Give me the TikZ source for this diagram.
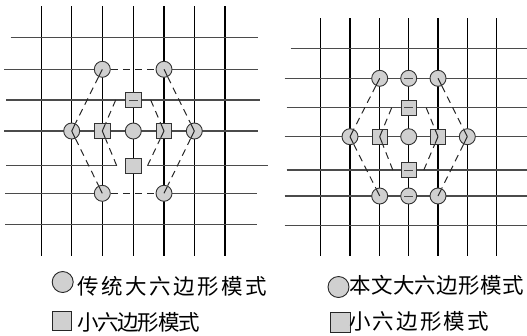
\documentclass[tikz,border=0pt]{standalone}
\usepackage{fontspec}
\newfontfamily\cjk{Noto Sans CJK SC}
\usetikzlibrary{calc}
\definecolor{nodefill}{RGB}{208,208,208}
\definecolor{hgray}{RGB}{75,75,75}
\tikzset{
  vline/.style={black, line width=1.2pt},
  hline/.style={hgray, line width=1.2pt},
  bigc/.style={circle, draw=black!80, fill=nodefill, line width=0.9pt, minimum size=16pt, inner sep=0pt},
  smsq/.style={rectangle, draw=black!80, fill=nodefill, line width=0.9pt, minimum size=15.5pt, inner sep=0pt},
  legc/.style={circle, draw=black!85, fill=nodefill, line width=0.9pt, minimum size=21pt, inner sep=0pt},
  legsq/.style={rectangle, draw=black!85, fill=nodefill, line width=0.9pt, minimum size=19.5pt, inner sep=0pt},
  dline/.style={black!85, line width=1pt, dash pattern=on 7pt off 5pt},
  spoke/.style={black!85, line width=1pt},
  inmark/.style={hgray, line width=1pt},
  legtext/.style={anchor=west, inner sep=0pt, font=\cjk\fontsize{21.5}{24}\selectfont},
}
% dashed edge between two nodes, with solid ends inside both
\newcommand{\nnedge}[2]{%
  \draw[dline] (#1) -- (#2);
  \draw[spoke] (#1.center) -- ($(#1.center)!7.5pt!(#2.center)$);
  \draw[spoke] (#2.center) -- ($(#2.center)!7.5pt!(#1.center)$);
}
% dashed edge from a coordinate to a node, solid end inside the node
\newcommand{\cnedge}[2]{%
  \draw[dline] (#1) -- (#2);
  \draw[spoke] (#2.center) -- ($(#2.center)!7.5pt!(#1)$);
}
\begin{document}
\begin{tikzpicture}[x=1pt, y=-1pt]
\useasboundingbox (0,0) rectangle (527,335);

% ---------------- left grid ----------------
\foreach \x in {41.7,71.7,102.3,133.3,164,194.3,225}
  \draw[vline] (\x,6) -- (\x,256);
\draw[hline] (10.7,37.7) -- (257.7,37.7);
\draw[hline] (4,69.3) -- (102.3,69.3);
\draw[hline] (164,69.3) -- (258,69.3);
\draw[hline] (6,100) -- (260,100);
\draw[hline] (4,131) -- (258,131);
\draw[hline] (6,165.7) -- (116.7,165.7);
\draw[hline] (147.5,165.7) -- (268,165.7);
\draw[hline] (5,193.3) -- (102.3,193.3);
\draw[hline] (164,193.3) -- (257,193.3);
\draw[hline] (5,224.3) -- (257,224.3);

\coordinate (la) at (115.7,100);
\coordinate (lb) at (150.7,100);
\coordinate (lc) at (116.7,165.7);
\coordinate (ld) at (147.5,165.7);

\node[bigc] (ltl) at (102.3,69.3) {};
\node[bigc] (ltr) at (164,69.3) {};
\node[bigc] (lml) at (71.7,131) {};
\node[bigc] (lmr) at (194.3,131) {};
\node[bigc] (lmc) at (133.3,131) {};
\node[bigc] (lbl) at (102.3,193.3) {};
\node[bigc] (lbr) at (164,193.3) {};
\node[smsq] (lsl) at (102.3,131) {};
\node[smsq] (lsr) at (164,131) {};
\node[smsq] (lst) at (133.3,100) {};
\node[smsq] (lsb) at (133.3,165.7) {};
\draw[inmark] ($(lst.center)+(-4.5,0)$) -- ($(lst.center)+(4.5,0)$);

\draw[dline] (ltl) -- (ltr);
\draw[dline] (lbl) -- (lbr);
\nnedge{ltl}{lml}
\nnedge{lml}{lbl}
\nnedge{ltr}{lmr}
\nnedge{lmr}{lbr}
\cnedge{la}{lsl}
\cnedge{lc}{lsl}
\cnedge{lb}{lsr}
\cnedge{ld}{lsr}

% ---------------- right grid ----------------
\foreach \x in {320.7,350,379.7,408.7,438,467.3,496.7}
  \draw[vline] (\x,18) -- (\x,256);
\draw[hline] (290.7,48.3) -- (527,48.3);
\draw[hline] (284.7,78.3) -- (527,78.3);
\draw[hline] (286.7,107.7) -- (527,107.7);
\draw[hline] (284.7,136.7) -- (527,136.7);
\draw[hline] (286.7,170) -- (527,170);
\draw[hline] (284.7,196) -- (527,196);
\draw[hline] (284.7,225.7) -- (527,225.7);

\coordinate (ra) at (391.7,107.7);
\coordinate (rb) at (426.2,107.7);
\coordinate (rc) at (392.8,170);
\coordinate (rd) at (423.8,170);

\node[bigc] (rtl) at (379.7,78.3) {};
\node[bigc] (rtc) at (408.7,78.3) {};
\node[bigc] (rtr) at (438,78.3) {};
\node[bigc] (rml) at (350,136.7) {};
\node[bigc] (rmr) at (467.3,136.7) {};
\node[bigc] (rmc) at (408.7,136.7) {};
\node[bigc] (rbl) at (379.7,196) {};
\node[bigc] (rbc) at (408.7,196) {};
\node[bigc] (rbr) at (438,196) {};
\node[smsq] (rsl) at (379.7,136.7) {};
\node[smsq] (rsr) at (438,136.7) {};
\node[smsq] (rst) at (408.7,107.7) {};
\node[smsq] (rsb) at (408.7,170) {};
\foreach \n in {rst,rsb,rtc,rbc}
  \draw[inmark] ($(\n.center)+(-4.5,0)$) -- ($(\n.center)+(4.5,0)$);

\nnedge{rtl}{rml}
\nnedge{rml}{rbl}
\nnedge{rtr}{rmr}
\nnedge{rmr}{rbr}
\cnedge{ra}{rsl}
\cnedge{rc}{rsl}
\cnedge{rb}{rsr}
\cnedge{rd}{rsr}

% ---------------- legends ----------------
\node[legc] (lk1) at (62.7,282) {};
\node[legsq] (lk2) at (62,321) {};
\node[legtext] (lt1) at (77,286) {\addfontfeatures{LetterSpace=12}传统大六边形模式};
\node[legtext] (lt2) at (77,322) {\addfontfeatures{LetterSpace=-6}小六边形模式};

\node[legc] (rk1) at (338.5,287) {};
\node[legsq] (rk2) at (340.5,322.5) {};
\node[legtext] (rt1) at (349,285) {\addfontfeatures{LetterSpace=2}本文大六边形模式};
\node[legtext] (rt2) at (349,321) {\addfontfeatures{LetterSpace=10}小六边形模式};
\end{tikzpicture}
\end{document}
